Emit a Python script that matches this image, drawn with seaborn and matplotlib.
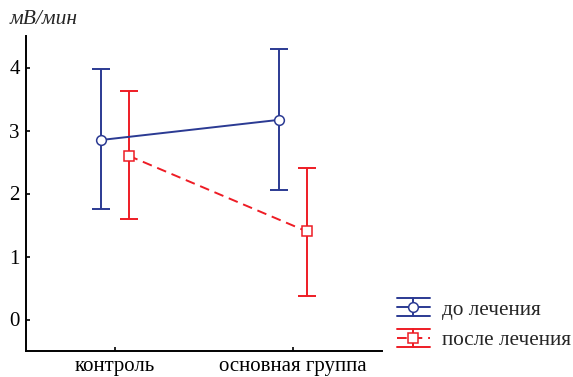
import numpy as np
import pandas as pd
import matplotlib
matplotlib.use("Agg")
import matplotlib.pyplot as plt
from matplotlib.lines import Line2D
import seaborn as sns

# Data
groups = ["контроль", "основная группа"]
series = ["до лечения", "после лечения"]

before_mean = [2.85, 3.17]
before_low = [1.75, 2.06]
before_high = [3.97, 4.29]

after_mean = [2.60, 1.40]
after_low = [1.59, 0.38]
after_high = [3.62, 2.41]

y_ticks = [0, 1, 2, 3, 4]

blue = "#2b3a93"
red = "#ee1c25"

sns.set_style("ticks")
plt.rcParams["font.family"] = ["Liberation Serif", "DejaVu Serif"]
plt.rcParams["font.size"] = 15

fig = plt.figure(figsize=(5.73, 3.77), dpi=100)
ax = fig.add_axes([26 / 573, 26 / 377, (382 - 26) / 573, (351 - 36) / 377])

styles = [
    dict(mean=before_mean, low=before_low, high=before_high, color=blue,
         marker="o", ms=7, ls="-", shift=-0.076),
    dict(mean=after_mean, low=after_low, high=after_high, color=red,
         marker="s", ms=6.5, ls=(0, (5, 3)), shift=0.076),
]

for name, st in zip(series, styles):
    xs = np.arange(len(groups)) + st["shift"]
    df = pd.DataFrame({"x": xs, "y": st["mean"]})
    mean = np.array(st["mean"])
    yerr = [mean - np.array(st["low"]), np.array(st["high"]) - mean]
    ax.errorbar(xs, mean, yerr=yerr, fmt="none", ecolor=st["color"],
                elinewidth=1.4, capsize=6.8, capthick=1.4, zorder=2)
    sns.lineplot(data=df, x="x", y="y", ax=ax, color=st["color"],
                 linewidth=1.4, linestyle=st["ls"], marker=st["marker"],
                 markersize=st["ms"], markerfacecolor="white",
                 markeredgecolor=st["color"], markeredgewidth=1.1,
                 zorder=3, legend=False)


# Legend glyph: small errorbar with caps across the whole handle
class ErrHandler:
    def __init__(self, color, ls, marker, ms):
        self.color = color
        self.ls = ls
        self.marker = marker
        self.ms = ms

    def legend_artist(self, legend, orig_handle, fontsize, handlebox):
        x0, y0 = -handlebox.xdescent, -handlebox.ydescent
        w, h = handlebox.width, handlebox.height
        cy = y0 + h / 2
        d = 6.5
        tr = handlebox.get_transform()
        arts = [
            Line2D([x0, x0 + w], [cy + d, cy + d], color=self.color, lw=1.4),
            Line2D([x0, x0 + w], [cy - d, cy - d], color=self.color, lw=1.4),
            Line2D([x0 + w / 2, x0 + w / 2], [cy - d, cy + d], color=self.color, lw=1.4),
            Line2D([x0, x0 + w], [cy, cy], color=self.color, lw=1.4, linestyle=self.ls),
            Line2D([x0 + w / 2], [cy], color=self.color, marker=self.marker,
                   markersize=self.ms, markerfacecolor="white",
                   markeredgecolor=self.color, markeredgewidth=1.1, linestyle="none"),
        ]
        for a in arts:
            a.set_transform(tr)
            handlebox.add_artist(a)
        return arts[0]


handles = [Line2D([], [], color=s["color"]) for s in styles]
hmap = {h: ErrHandler(s["color"], s["ls"], s["marker"], s["ms"])
        for h, s in zip(handles, styles)}
fig.legend(handles, series, handler_map=hmap, loc="center left",
           bbox_to_anchor=(397 / 573, 1 - 325 / 377), frameon=False,
           borderpad=0, borderaxespad=0, handlelength=1.55,
           handletextpad=0.55, labelspacing=0.5, fontsize=15.3)

ax.set_xlim(-0.5, 1.5)
ax.set_ylim(-0.5, 4.5)
ax.set_xticks(range(len(groups)))
ax.set_xticklabels(groups)
ax.set_yticks(y_ticks)
ax.set_xlabel("")
ax.set_ylabel("")
ax.tick_params(direction="in", length=3, width=1.2, colors="black",
               labelsize=15)
ax.tick_params(axis="y", pad=4.5)
ax.tick_params(axis="x", pad=4)
for side in ["top", "right"]:
    ax.spines[side].set_visible(False)
for side in ["left", "bottom"]:
    ax.spines[side].set_linewidth(1.4)
    ax.spines[side].set_color("black")

fig.text(10 / 573, 1 - 20 / 377, "мВ/мин", fontsize=15.5, style="italic",
         ha="left", va="center")

fig.savefig("out.png", dpi=100)
